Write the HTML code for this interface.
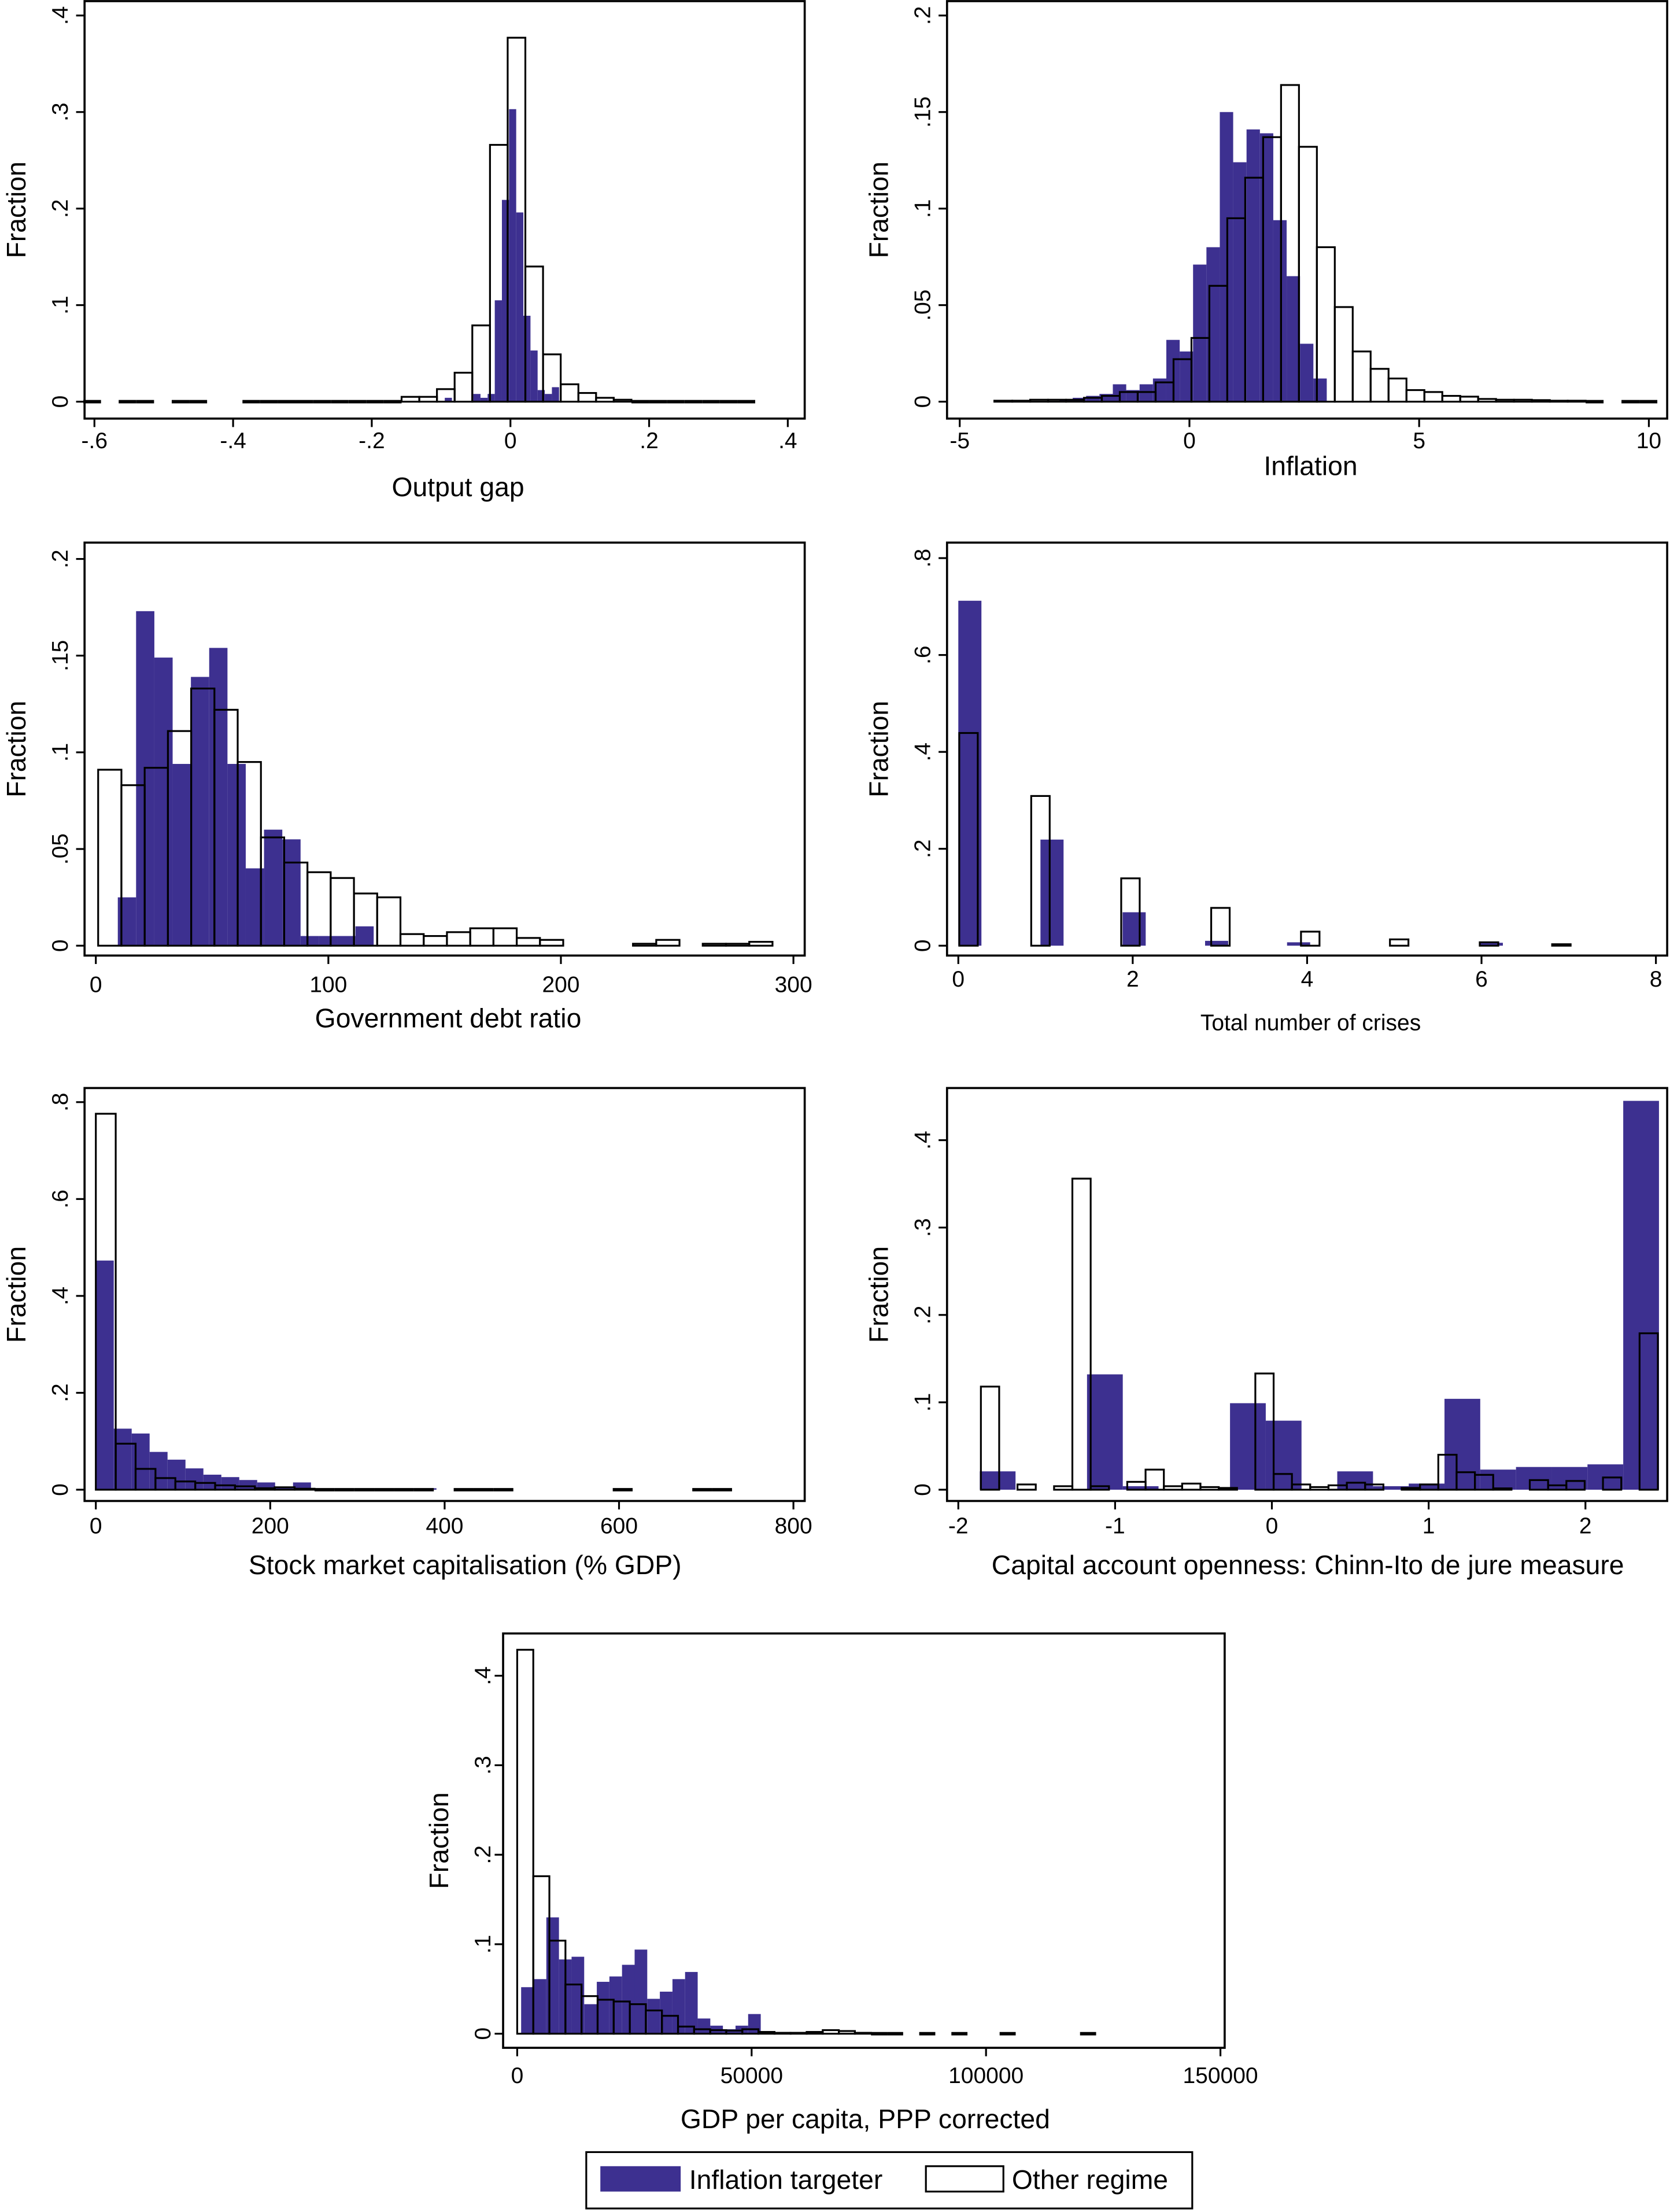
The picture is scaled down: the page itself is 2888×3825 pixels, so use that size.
<!DOCTYPE html>
<html><head><meta charset="utf-8">
<style>
html,body{margin:0;padding:0;background:#fff;}
svg{display:block;}
text{font-family:"Liberation Sans",sans-serif;fill:#000;}
</style></head>
<body>
<svg id="fig" xmlns="http://www.w3.org/2000/svg" width="2888" height="3825" viewBox="0 0 1185 1569.5" preserveAspectRatio="none">
<rect x="0" y="0" width="1185" height="1569.5" fill="#fff"/>
<g id="legend">
  <rect x="416" y="1527" width="430" height="40" fill="#fff" stroke="#000" stroke-width="1.3"/>
  <rect x="426" y="1537" width="57" height="18" fill="#3d3090"/>
  <text x="489" y="1553" font-size="19">Inflation targeter</text>
  <rect x="657" y="1537" width="55" height="18" fill="#fff" stroke="#000" stroke-width="1.3"/>
  <text x="718" y="1553" font-size="19">Other regime</text>
</g>
</svg>
<script>
// ---------- DATA ----------
// Panel 1: Output gap
const p1XTicks=[-0.6,-0.4,-0.2,0,0.2,0.4];
const p1XTickLabels=["-.6","-.4","-.2","0",".2",".4"];
const p1YTicks=[0,0.1,0.2,0.3,0.4];
const p1YTickLabels=["0",".1",".2",".3",".4"];
const p1BlueStart=-0.0947, p1BlueWidth=0.0103;
const p1Blue=[0.004,0,0,0,0.008,0.004,0.008,0.105,0.209,0.303,0.196,0.089,0.053,0.012,0.008,0.015];
const p1WhiteStart=-0.616, p1WhiteWidth=0.0255;
const p1White=[0,null,0,0,null,0,0,null,null,0,0,0,0,0,0,0,0,0,0.005,0.005,0.013,0.03,0.079,0.266,0.377,0.14,0.049,0.018,0.009,0.004,0.002,0.0005,0,0,0,0,0,0];

// Panel 2: Inflation
const p2XTicks=[-5,0,5,10];
const p2XTickLabels=["-5","0","5","10"];
const p2YTicks=[0,0.05,0.1,0.15,0.2];
const p2YTickLabels=["0",".05",".1",".15",".2"];
const p2BlueStart=-2.831, p2BlueWidth=0.291;
const p2Blue=[0.001,0.002,0.003,0.004,0.009,0.006,0.009,0.012,0.032,0.026,0.071,0.080,0.150,0.124,0.141,0.139,0.094,0.065,0.030,0.012];
const p2WhiteStart=-4.246, p2WhiteWidth=0.39;
const p2White=[0.0005,0.0005,0.001,0.001,0.001,0.002,0.003,0.005,0.005,0.010,0.022,0.033,0.060,0.095,0.116,0.137,0.164,0.132,0.080,0.049,0.026,0.017,0.012,0.006,0.005,0.003,0.0026,0.0014,0.001,0.001,0.0008,0.0005,0.0005,0.0003,null,0,0];

// Panel 3: Government debt ratio
const p3XTicks=[0,100,200,300];
const p3XTickLabels=["0","100","200","300"];
const p3YTicks=[0,0.05,0.1,0.15,0.2];
const p3YTickLabels=["0",".05",".1",".15",".2"];
const p3BlueStart=9.45, p3BlueWidth=7.86;
const p3Blue=[0.025,0.173,0.149,0.094,0.139,0.154,0.094,0.040,0.060,0.055,0.005,0.005,0.005,0.010];
const p3WhiteStart=1, p3WhiteWidth=10;
const p3White=[0.091,0.083,0.092,0.111,0.133,0.122,0.095,0.056,0.043,0.038,0.035,0.027,0.025,0.006,0.005,0.007,0.009,0.009,0.004,0.003,null,null,null,0.001,0.003,null,0.001,0.001,0.002];

// Panel 4: Total number of crises
const p4XTicks=[0,2,4,6,8];
const p4XTickLabels=["0","2","4","6","8"];
const p4YTicks=[0,0.2,0.4,0.6,0.8];
const p4YTickLabels=["0",".2",".4",".6",".8"];
const p4BlueLefts=[0,0.942,1.884,2.83,3.77,5.98];
const p4Blue=[0.712,0.219,0.069,0.010,0.007,0.006];
const p4BlueWidth=0.265;
const p4WhiteLefts=[0.011,0.836,1.868,2.90,3.93,4.95,5.98,6.81];
const p4White=[0.439,0.309,0.139,0.078,0.029,0.013,0.007,0.003];
const p4WhiteWidth=0.212;

// Panel 5: Stock market capitalisation
const p5XTicks=[0,200,400,600,800];
const p5XTickLabels=["0","200","400","600","800"];
const p5YTicks=[0,0.2,0.4,0.6,0.8];
const p5YTickLabels=["0",".2",".4",".6",".8"];
const p5BlueStart=0, p5BlueWidth=20.56;
const p5Blue=[0.473,0.126,0.116,0.078,0.062,0.044,0.031,0.026,0.020,0.015,0.005,0.015,0.002,0.003,0.002,0.003,0.001,0.003,0.003];
const p5WhiteStart=0, p5WhiteWidth=22.8;
const p5White=[0.776,0.095,0.043,0.024,0.017,0.014,0.009,0.007,0.003,0.005,0.002,0.001,0.001,0.001,0.001,0.001,0.001,null,0.001,0.001,0.001,null,null,null,null,null,0.001,null,null,null,0.001,0.001];

// Panel 6: Capital account openness
const p6XTicks=[-2,-1,0,1,2];
const p6XTickLabels=["-2","-1","0","1","2"];
const p6YTicks=[0,0.1,0.2,0.3,0.4];
const p6YTickLabels=["0",".1",".2",".3",".4"];
const p6BlueStart=-1.863, p6BlueWidth=0.228;
const p6Blue=[0.021,0,0,0.132,0.004,0,0,0.099,0.079,0,0.021,0.004,0.007,0.104,0.023,0.026,0.026,0.029,0.445];
const p6WhiteStart=-1.856, p6WhiteWidth=0.1167;
const p6White=[0.118,null,0.006,null,0.004,0.356,0.004,null,0.009,0.023,0.004,0.007,0.003,0.002,null,0.133,0.018,0.006,0.003,0.005,0.008,0.006,null,0.002,0.006,0.040,0.020,0.017,0.0015,null,0.011,0.005,0.010,null,0.014,null,0.179];

// Panel 7: GDP per capita
const p7XTicks=[0,50000,100000,150000];
const p7XTickLabels=["0","50000","100000","150000"];
const p7YTicks=[0,0.1,0.2,0.3,0.4];
const p7YTickLabels=["0",".1",".2",".3",".4"];
const p7BlueStart=837, p7BlueWidth=2690;
const p7Blue=[0.052,0.061,0.130,0.083,0.086,0.033,0.058,0.064,0.077,0.094,0.039,0.047,0.061,0.069,0.017,0.009,0.005,0.009,0.022,0.002];
const p7WhiteStart=0, p7WhiteWidth=3430;
const p7White=[0.429,0.176,0.104,0.055,0.042,0.038,0.036,0.033,0.026,0.020,0.008,0.005,0.004,0.0035,0.005,0.002,0.001,0.001,0.002,0.004,0.003,0.001,0.0005,0.0005,null,0,null,0,null,null,0,null,null,null,null,0];

// ---------- DRAWING ----------
const NS="http://www.w3.org/2000/svg";
const fig=document.getElementById('fig');
const legend=document.getElementById('legend');
const BLUE="#3d3090";
function mk(tag,attrs,parent){const e=document.createElementNS(NS,tag);for(const k in attrs)e.setAttribute(k,attrs[k]);parent.appendChild(e);return e;}
function lin(d0,d1,r0,r1){return v=>r0+(v-d0)*(r1-r0)/(d1-d0);}

function drawPanel(cfg){
  const g=mk('g',{},fig);
  
  
  const X=lin(cfg.xd[0],cfg.xd[1],cfg.xr[0],cfg.xr[1]);
  const Y=lin(0,cfg.yd,cfg.yr[0],cfg.yr[1]);
  const y0=Y(0);
  // blue bars
  cfg.blue.forEach((v,i)=>{
    if(v===null||v===undefined)return;
    const l=cfg.blueLefts?cfg.blueLefts[i]:cfg.blueStart+i*cfg.blueWidth;
    const x1=X(l),x2=X(l+cfg.blueWidth);
    const h=Math.max(y0-Y(v),0);
    const r=mk('rect',{x:x1,y:y0-h,width:x2-x1,height:h,fill:BLUE},g);
    
    
  });
  // white (outline) bars
  cfg.white.forEach((v,i)=>{
    if(v===null||v===undefined)return;
    const l=cfg.whiteLefts?cfg.whiteLefts[i]:cfg.whiteStart+i*cfg.whiteWidth;
    const x1=X(l),x2=X(l+cfg.whiteWidth);
    const h=Math.max(y0-Y(v),0);
    let r;
    if(h<0.6){
      r=mk('line',{x1:x1,x2:x2,y1:y0,y2:y0,stroke:'#000','stroke-width':2.4},g);
    } else {
      r=mk('rect',{x:x1,y:y0-h,width:x2-x1,height:h,fill:'none',stroke:'#000','stroke-width':1.3},g);
    }
    
    
  });
  // box
  const b=cfg.box;
  const box=mk('rect',{x:b[0],y:b[1],width:b[2]-b[0],height:b[3]-b[1],fill:'none',stroke:'#000','stroke-width':1.5},g);
  
  
  // x ticks
  cfg.xt.forEach((t,i)=>{
    const x=X(t);
    const tk=mk('line',{x1:x,x2:x,y1:b[3],y2:b[3]+6,stroke:'#000','stroke-width':1.3},g);
    
    
    const tx=mk('text',{x:x,y:cfg.xlY,'font-size':16,'text-anchor':'middle'},g);
    tx.textContent=cfg.xl[i];
    
    
  });
  // y ticks
  cfg.yt.forEach((t,i)=>{
    const y=Y(t);
    const tk=mk('line',{x1:b[0]-6,x2:b[0],y1:y,y2:y,stroke:'#000','stroke-width':1.3},g);
    
    
    const tx=mk('text',{x:cfg.ylX,y:y,'font-size':16,'text-anchor':'middle',transform:`rotate(-90 ${cfg.ylX} ${y})`},g);
    tx.textContent=cfg.yl[i];
    
    
  });
  // titles
  const xt=mk('text',{x:cfg.titleX,y:cfg.titleY,'font-size':cfg.titleSize||19,'text-anchor':'middle'},g);
  xt.textContent=cfg.title;
  
  
  const yc=(b[1]+b[3])/2;
  const yt=mk('text',{x:cfg.fracX,y:yc,'font-size':19,'text-anchor':'middle',transform:`rotate(-90 ${cfg.fracX} ${yc})`},g);
  yt.textContent='Fraction';
  
  
}

drawPanel({name:'output-gap-histogram',box:[60,0.8,571,297],xd:[0,0.4],xr:[362.2,559],yd:0.4,yr:[285,11],
  xt:p1XTicks,xl:p1XTickLabels,yt:p1YTicks,yl:p1YTickLabels,xlY:318,ylX:48,title:'Output gap',titleX:325,titleY:352,fracX:18,
  blue:p1Blue,blueStart:p1BlueStart,blueWidth:p1BlueWidth,white:p1White,whiteStart:p1WhiteStart,whiteWidth:p1WhiteWidth});
drawPanel({name:'inflation-histogram',box:[672,0.8,1183,297],xd:[0,10],xr:[844,1170],yd:0.2,yr:[285,11],
  xt:p2XTicks,xl:p2XTickLabels,yt:p2YTicks,yl:p2YTickLabels,xlY:318,ylX:660,title:'Inflation',titleX:930,titleY:337,fracX:630,
  blue:p2Blue,blueStart:p2BlueStart,blueWidth:p2BlueWidth,white:p2White,whiteStart:p2WhiteStart,whiteWidth:p2WhiteWidth});
drawPanel({name:'government-debt-histogram',box:[60,385,571,678],xd:[0,300],xr:[68,563],yd:0.2,yr:[671,396.6],
  xt:p3XTicks,xl:p3XTickLabels,yt:p3YTicks,yl:p3YTickLabels,xlY:704,ylX:48,title:'Government debt ratio',titleX:318,titleY:729,fracX:18,
  blue:p3Blue,blueStart:p3BlueStart,blueWidth:p3BlueWidth,white:p3White,whiteStart:p3WhiteStart,whiteWidth:p3WhiteWidth});
drawPanel({name:'crises-histogram',box:[672,385,1183,678],xd:[0,8],xr:[680,1175],yd:0.8,yr:[671,396],
  xt:p4XTicks,xl:p4XTickLabels,yt:p4YTicks,yl:p4YTickLabels,xlY:700,ylX:660,title:'Total number of crises',titleSize:16,titleX:930,titleY:731,fracX:630,
  blue:p4Blue,blueLefts:p4BlueLefts,blueWidth:p4BlueWidth,white:p4White,whiteLefts:p4WhiteLefts,whiteWidth:p4WhiteWidth});
drawPanel({name:'stock-market-histogram',box:[60,772,571,1065],xd:[0,800],xr:[68,563],yd:0.8,yr:[1057,782],
  xt:p5XTicks,xl:p5XTickLabels,yt:p5YTicks,yl:p5YTickLabels,xlY:1088,ylX:48,title:'Stock market capitalisation (% GDP)',titleX:330,titleY:1117,fracX:18,
  blue:p5Blue,blueStart:p5BlueStart,blueWidth:p5BlueWidth,white:p5White,whiteStart:p5WhiteStart,whiteWidth:p5WhiteWidth});
drawPanel({name:'capital-openness-histogram',box:[672,772,1183,1065],xd:[0,2],xr:[902.5,1125],yd:0.4,yr:[1057,809],
  xt:p6XTicks,xl:p6XTickLabels,yt:p6YTicks,yl:p6YTickLabels,xlY:1088,ylX:660,title:'Capital account openness: Chinn-Ito de jure measure',titleX:928,titleY:1117,fracX:630,
  blue:p6Blue,blueStart:p6BlueStart,blueWidth:p6BlueWidth,white:p6White,whiteStart:p6WhiteStart,whiteWidth:p6WhiteWidth});
drawPanel({name:'gdp-per-capita-histogram',box:[357,1159,869,1453],xd:[0,150000],xr:[367,866],yd:0.4,yr:[1443,1189],
  xt:p7XTicks,xl:p7XTickLabels,yt:p7YTicks,yl:p7YTickLabels,xlY:1478,ylX:348,title:'GDP per capita, PPP corrected',titleX:614,titleY:1510,fracX:318,
  blue:p7Blue,blueStart:p7BlueStart,blueWidth:p7BlueWidth,white:p7White,whiteStart:p7WhiteStart,whiteWidth:p7WhiteWidth});
fig.appendChild(legend);
</script>
</body></html>
